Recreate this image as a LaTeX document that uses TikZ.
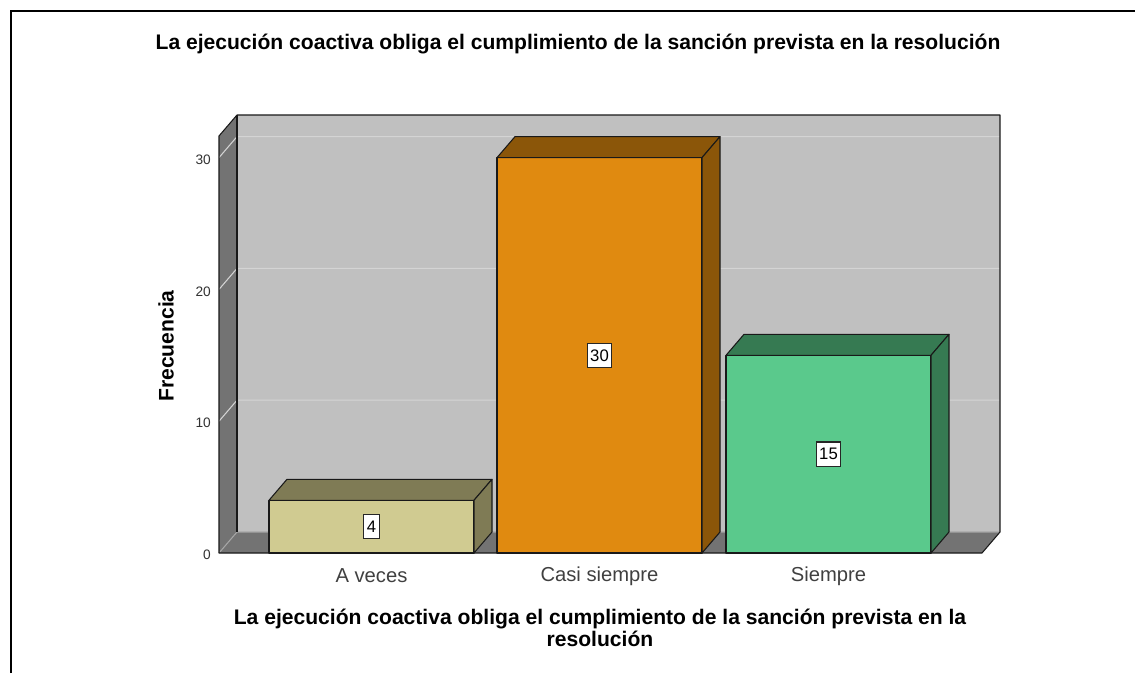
\documentclass[tikz,border=0pt]{standalone}
\usepackage{fontspec}
\setmainfont{Liberation Sans}

\definecolor{wallback}{HTML}{C0C0C0}
\definecolor{wallside}{HTML}{737373}
\definecolor{gridc}{HTML}{D4D4D4}
\definecolor{barA}{HTML}{D0CB91}
\definecolor{barAtop}{HTML}{7F7B55}
\definecolor{barB}{HTML}{E08A10}
\definecolor{barBtop}{HTML}{8B5609}
\definecolor{barC}{HTML}{5AC98C}
\definecolor{barCtop}{HTML}{367A52}

\tikzset{
	edge/.style={draw=black!90, line width=0.6pt, line join=round},
	gridline/.style={draw=gridc, line width=0.6pt},
	valbox/.style={draw=black!85, fill=white, line width=0.6pt, inner xsep=1.8pt, inner ysep=3.6pt, font=\fontsize{9.5}{10}\selectfont},
	ticklabel/.style={anchor=east, text=black!80, font=\fontsize{7.8}{8}\selectfont},
	catlabel/.style={text=black!75, font=\fontsize{11.5}{13}\selectfont},
	heading/.style={font=\bfseries\fontsize{12}{10.8}\selectfont}
}

\begin{document}
\begin{tikzpicture}[x=0.02cm, y=-0.02cm]
		\useasboundingbox (0,0) rectangle (1135,673);
		\draw[line width=1.2pt] (11,673) -- (11,11) -- (1135,11);
		\node[heading] (title) at (578,44) {La ejecución coactiva obliga el cumplimiento de la sanción prevista en la resolución};
		% walls
		\fill[wallback] (237,115) rectangle (1000,532);
		\fill[wallside] (219,136) -- (237,115) -- (237,532) -- (219,553) -- cycle;
		\fill[wallside] (219,553) -- (237,532) -- (1000,532) -- (982,553) -- cycle;
		\foreach \v in {10,20,30}
			\draw[gridline] (219,553-13.18*\v) -- (237,532-13.18*\v) -- (1000,532-13.18*\v);
		\draw[draw=black!35, line width=0.6pt] (219,553) -- (237,532) -- (1000,532);
		\draw[edge] (219,553) -- (219,136) -- (237,115) -- (1000,115) -- (1000,532) -- (982,553) -- cycle;
		\draw[edge] (237,115) -- (237,532);
		\foreach \v in {0,10,20,30}
			\node[ticklabel] (tick\v) at (217,555-13.18*\v) {\v};
		% bars
		\foreach \x/\v/\front/\side/\lab [count=\i] in {269/4/barA/barAtop/A veces, 497/30/barB/barBtop/Casi siempre, 726/15/barC/barCtop/Siempre}{
			\pgfmathsetmacro\t{553-13.18*\v}
			\filldraw[edge, fill=\front] (\x,553) rectangle (\x+205,\t);
			\filldraw[edge, fill=\side] (\x,\t) -- (\x+18,\t-21) -- (\x+223,\t-21) -- (\x+205,\t) -- cycle;
			\filldraw[edge, fill=\side] (\x+205,553) -- (\x+205,\t) -- (\x+223,\t-21) -- (\x+223,532) -- cycle;
			\node[valbox] (val\i) at (\x+102.5,{(553+\t)/2}) {\v};
			\node[catlabel] (cat\i) at (\x+102.5,576) {\lab};
		}
		\node[heading, rotate=90] (ytitle) at (166,346) {Frecuencia};
		\node[heading, align=center] (xtitle) at (600,628) {La ejecución coactiva obliga el cumplimiento de la sanción prevista en la\\resolución};
	\end{tikzpicture}
\end{document}
